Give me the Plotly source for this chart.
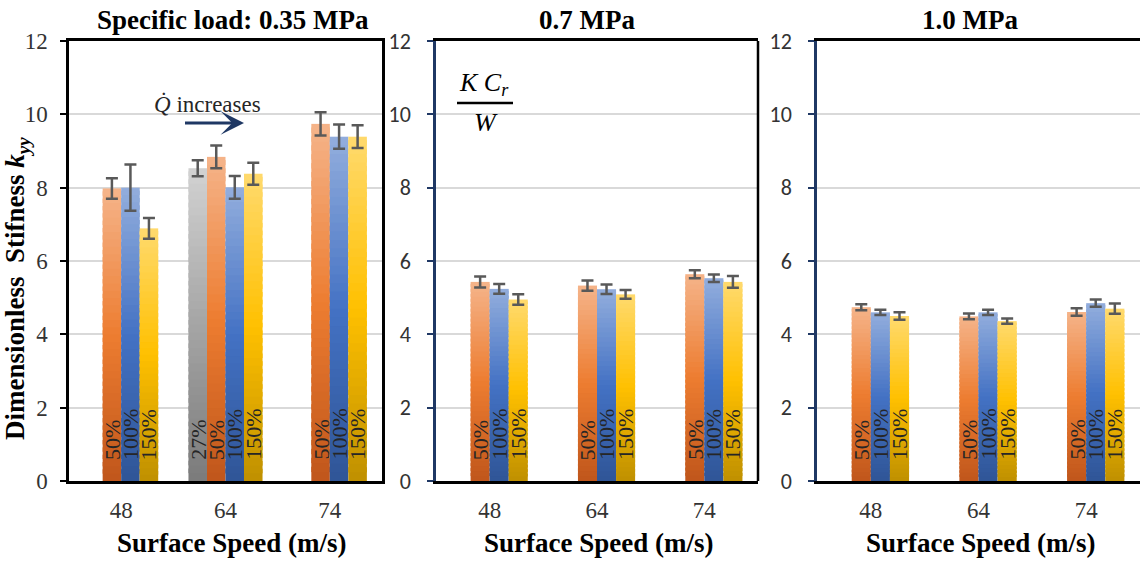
import plotly.graph_objects as go

# Surface speeds (m/s) and oil-flow levels
speeds = ["48", "64", "74"]
flow_labels = ["27%", "50%", "100%", "150%"]

# Dimensionless stiffness k_yy, specific load 0.35 MPa
k035_27 = [None, 8.53, None]
k035_50 = [7.98, 8.84, 9.74]
k035_100 = [8.00, 8.01, 9.39]
k035_150 = [6.89, 8.38, 9.39]
e035_27 = [None, 0.22, None]
e035_50 = [0.28, 0.31, 0.32]
e035_100 = [0.63, 0.31, 0.33]
e035_150 = [0.28, 0.30, 0.31]

# Specific load 0.7 MPa
k070_50 = [5.43, 5.33, 5.64]
k070_100 = [5.24, 5.23, 5.53]
k070_150 = [4.95, 5.09, 5.43]
e070_50 = [0.15, 0.14, 0.11]
e070_100 = [0.13, 0.13, 0.10]
e070_150 = [0.14, 0.12, 0.16]

# Specific load 1.0 MPa
k100_50 = [4.74, 4.49, 4.61]
k100_100 = [4.60, 4.60, 4.85]
k100_150 = [4.50, 4.36, 4.70]
e100_50 = [0.08, 0.08, 0.10]
e100_100 = [0.07, 0.07, 0.10]
e100_150 = [0.10, 0.07, 0.14]

panel_titles = ["Specific load: 0.35 MPa", "0.7 MPa", "1.0 MPa"]

W, H = 1140, 561
SERIF = "Liberation Serif, Times New Roman, serif"
SANS = "Carlito, Calibri, Lato, sans-serif"
NAVY = "#1F3864"


def px(x):
    return x / W


def py(y):
    return 1 - y / H


# gradient stops (bottom, middle, top) for each flow level
grad = {
    "27%": ["#7B7B7B", "#A5A5A5", "#D2D2D2"],
    "50%": ["#C0561B", "#ED7D31", "#F5B48A"],
    "100%": ["#2F5597", "#4472C4", "#93AEDD"],
    "150%": ["#BF9000", "#FFC000", "#FFDA6E"],
}


def hex2rgb(h):
    h = h.lstrip("#")
    return [int(h[i:i + 2], 16) for i in (0, 2, 4)]


def mix(c0, c1, t):
    a, b = hex2rgb(c0), hex2rgb(c1)
    return "rgb(%d,%d,%d)" % tuple(round(a[i] + (b[i] - a[i]) * t) for i in range(3))


def grad_color(stops, t):
    if t < 0.5:
        return mix(stops[0], stops[1], t / 0.5)
    return mix(stops[1], stops[2], (t - 0.5) / 0.5)


panels = [
    ("x", "y", [("27%", k035_27, e035_27), ("50%", k035_50, e035_50),
                ("100%", k035_100, e035_100), ("150%", k035_150, e035_150)]),
    ("x2", "y2", [("50%", k070_50, e070_50), ("100%", k070_100, e070_100),
                  ("150%", k070_150, e070_150)]),
    ("x3", "y3", [("50%", k100_50, e100_50), ("100%", k100_100, e100_100),
                  ("150%", k100_150, e100_150)]),
]

BAR_W = 0.1775      # width of one bar in category units
N_SEG = 40          # gradient slices per bar
cats = list(range(len(speeds)))

fig = go.Figure()
annotations = []

for xa, ya, series in panels:
    for label, vals, errs in series:
        slot = flow_labels.index(label)
        offset = (slot - 2) * BAR_W
        centre = [c + offset + BAR_W / 2 for c in cats]
        stops = grad[label]
        # bar body, drawn as stacked gradient slices
        for k in range(N_SEG):
            t = (k + 0.5) / N_SEG
            over = 1.6 if k < N_SEG - 1 else 1.0
            ys = [None if v is None else v / N_SEG * over for v in vals]
            bs = [None if v is None else v * k / N_SEG for v in vals]
            fig.add_trace(go.Bar(
                x=cats, y=ys, base=bs, width=BAR_W, offset=offset,
                marker=dict(color=grad_color(stops, t), line=dict(width=0)),
                xaxis=xa, yaxis=ya, showlegend=False, hoverinfo="skip",
            ))
        # error bars
        ex = [centre[i] for i, v in enumerate(vals) if v is not None]
        ey = [v for v in vals if v is not None]
        ee = [e for e in errs if e is not None]
        fig.add_trace(go.Scatter(
            x=ex, y=ey, mode="markers",
            marker=dict(size=1, color="rgba(0,0,0,0)"),
            error_y=dict(type="data", array=ee, color="#595959", thickness=2.5, width=6),
            xaxis=xa, yaxis=ya, showlegend=False, hoverinfo="skip",
        ))
        # flow-level labels at the bar bases
        for i, v in enumerate(vals):
            if v is None:
                continue
            annotations.append(dict(
                x=centre[i], y=0, xref=xa, yref=ya, text=label, showarrow=False,
                textangle=-90, xanchor="center", yanchor="bottom", yshift=19,
                font=dict(family=SERIF, size=22, color="#262626"),
            ))

domains = [(69, 382), (436, 758), (817, 1140)]
y_dom = [py(481), py(41)]

layout_axes = {}
for n, (x0, x1) in enumerate(domains):
    sfx = "" if n == 0 else str(n + 1)
    ycol = "black" if n == 0 else NAVY
    tfont = dict(family=SERIF, size=23, color="#333333") if n == 0 else \
        dict(family=SANS, size=22, color="#333333")
    layout_axes["xaxis" + sfx] = dict(
        domain=[px(x0), px(x1)], anchor="y" + sfx, range=[-0.5, 2.5],
        tickvals=cats, ticktext=speeds, ticks="", showgrid=False, zeroline=False,
        showline=True, linecolor="black", linewidth=2.5, mirror=True,
        tickfont=dict(family=SERIF, size=23, color="#333333"),
        ticklabelstandoff=7, automargin=False, fixedrange=True,
    )
    layout_axes["yaxis" + sfx] = dict(
        domain=y_dom, anchor="x" + sfx, range=[0, 12], dtick=2, tick0=0,
        showline=True, linecolor=ycol, linewidth=2.5, mirror=(n == 0),
        ticks="outside", ticklen=6, tickwidth=2, tickcolor=ycol,
        showgrid=True, gridcolor="#D9D9D9", gridwidth=2, zeroline=False,
        tickfont=tfont, ticklabelstandoff=8 if n == 0 else 12,
        automargin=False, fixedrange=True,
    )

# panel titles and x-axis titles
title_x = [233, 587, 970]
xtitle_x = [231, 598, 980]
for n in range(3):
    annotations.append(dict(
        x=px(title_x[n]), y=py(20), xref="paper", yref="paper", showarrow=False,
        text="<b>%s</b>" % panel_titles[n], xanchor="center", yanchor="middle",
        font=dict(family=SERIF, size=27, color="black"),
    ))
    annotations.append(dict(
        x=px(xtitle_x[n]), y=py(543), xref="paper", yref="paper", showarrow=False,
        text="<b>Surface Speed (m/s)</b>", xanchor="center", yanchor="middle",
        font=dict(family=SERIF, size=27, color="black"),
    ))

# y-axis title
annotations.append(dict(
    x=px(17), y=py(289), xref="paper", yref="paper", showarrow=False, textangle=-90,
    text="<b>Dimensionless\u00a0 Stifness <i>k</i><sub><i>yy</i></sub></b>",
    xanchor="center", yanchor="middle",
    font=dict(family=SERIF, size=27, color="black"),
))

# flow-rate note with arrow
annotations.append(dict(
    x=px(207), y=py(104), xref="paper", yref="paper", showarrow=False,
    text="<i>Q\u0307</i> increases", xanchor="center", yanchor="middle",
    font=dict(family=SERIF, size=23, color="#262626"),
))
annotations.append(dict(
    x=px(244), y=py(123), xref="paper", yref="paper", text=" ",
    showarrow=True, ax=-62, ay=0, axref="pixel", ayref="pixel",
    arrowhead=3, arrowwidth=3, arrowsize=1.3, arrowcolor=NAVY,
))

# normalisation K C_r / W
annotations.append(dict(
    x=px(484), y=py(84), xref="paper", yref="paper", showarrow=False,
    text="<i>K C</i><sub><i>r</i></sub>", xanchor="center", yanchor="middle",
    font=dict(family=SERIF, size=26, color="black"),
))
annotations.append(dict(
    x=px(486), y=py(122), xref="paper", yref="paper", showarrow=False,
    text="<i>W</i>", xanchor="center", yanchor="middle",
    font=dict(family=SERIF, size=26, color="black"),
))

shapes = [
    dict(type="line", xref="paper", yref="paper", x0=px(457), x1=px(513),
         y0=py(103), y1=py(103), line=dict(color="black", width=2.5)),
    dict(type="line", xref="x2 domain", yref="y2 domain", x0=1, x1=1, y0=0, y1=1,
         line=dict(color="black", width=2.5)),
]

fig.update_layout(
    width=W, height=H, margin=dict(l=0, r=0, t=0, b=0, pad=0, autoexpand=False),
    paper_bgcolor="white", plot_bgcolor="white",
    barmode="overlay", showlegend=False,
    annotations=annotations, shapes=shapes, **layout_axes,
)

fig.write_html("out.html")
